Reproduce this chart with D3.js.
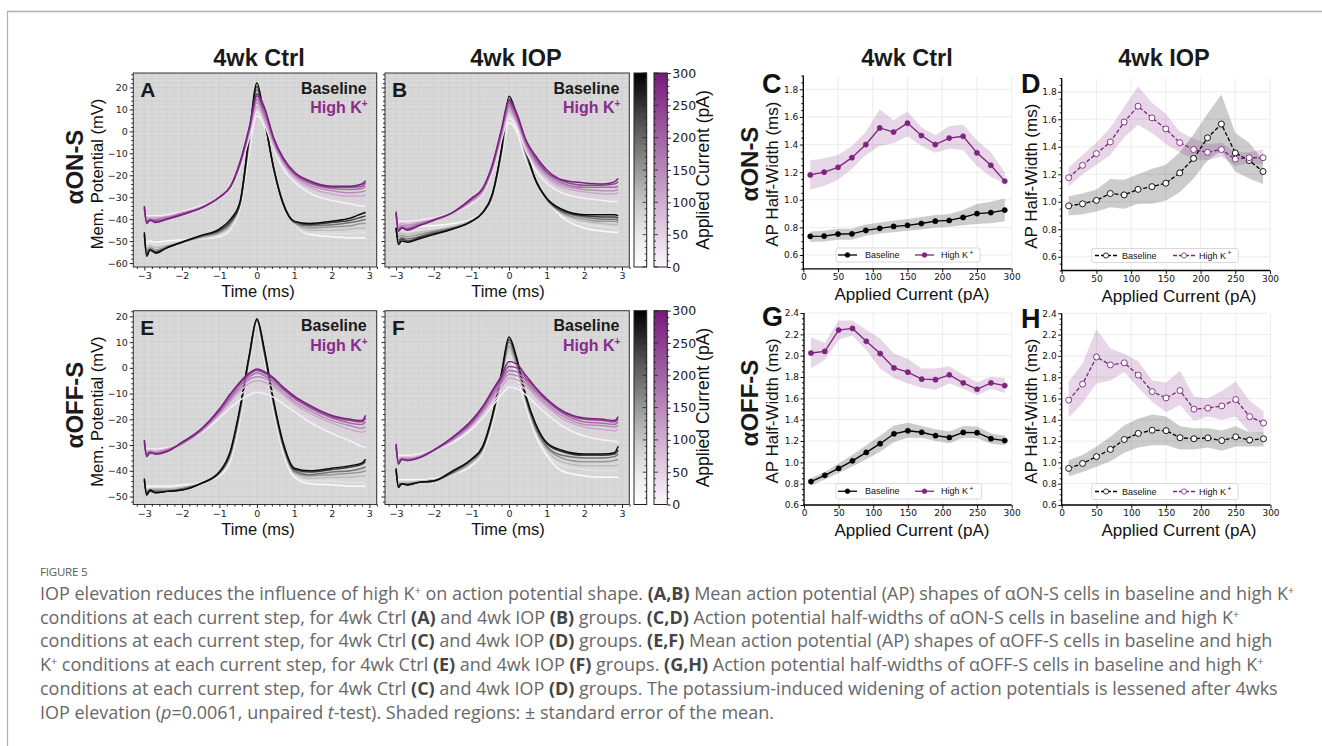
<!DOCTYPE html>
<html><head><meta charset="utf-8">
<script src="https://cdn.jsdelivr.net/npm/d3@7"></script>
<style>body{margin:0;background:#fff;} svg{display:block;}</style>
</head><body>
<svg id="fig" width="1322" height="746"></svg>
<script>
// ---------------- DATA ----------------
// Action potential traces (mV) sampled at apTime (ms), one trace per applied current step
const apTime = [-3,-2.94,-2.85,-2.7,-2.4,-2,-1.5,-1,-0.7,-0.45,-0.2,0,0.2,0.45,0.7,1,1.4,2,2.5,2.8,2.9];
const apCurrents = [10,60,110,150,190,240,290];

const onCtrlBase = [
 [-49,-50.5,-50,-50.5,-50,-49.5,-49,-48,-44.5,-35,-9,9,2,-16,-31,-42,-47,-48,-48.5,-48.5,-48.5],
 [-49,-52,-51,-52,-51,-50,-49,-47.5,-44,-34,-7,12,3,-16,-31,-42,-46.5,-46.5,-46.5,-46,-46],
 [-48,-53,-52,-53,-52,-50.5,-48.5,-46.5,-43,-33,-5,15,4,-16,-32,-42,-45,-45,-44.5,-44,-44],
 [-48,-54,-53,-54,-52.5,-50.5,-48,-46,-42,-33,-4,17,5,-17,-32,-41.5,-44,-43.5,-43,-42,-42],
 [-47,-55,-53.5,-55,-53,-50.5,-48,-45.5,-41.5,-33,-3,19,5,-17,-33,-41.5,-43,-42.5,-41.5,-40.5,-40],
 [-47,-56,-54,-55,-53,-50.5,-47.5,-45,-41,-33,-2,20.5,6,-17,-33,-41,-42.5,-41.5,-40.5,-39,-38.5],
 [-46,-57,-54,-55.5,-53,-50.5,-47.5,-44.5,-40,-32,-1,22,6,-17,-33,-41,-42,-41,-39.5,-37.5,-37]
];
const onCtrlHighK = [
 [-38,-38.5,-38.5,-38.5,-38,-36.5,-34,-30.5,-26,-17,-3,7,3,-8,-17,-23,-28,-31.5,-33,-34,-34],
 [-37,-39,-39,-39,-38.5,-37,-34.5,-30.5,-25.5,-16,-1.5,9.5,4.5,-7,-15.5,-22,-26.5,-30,-31,-31.5,-31.5],
 [-36,-39.5,-39.5,-39.5,-39,-37,-34.5,-30,-25.5,-15.5,-0.5,11.5,6,-6,-14.5,-21,-25.5,-28.5,-29.5,-29.5,-29],
 [-35.5,-40.5,-40,-40,-39,-37.5,-35,-30,-25,-15,0.5,13,7.5,-5,-13.5,-20,-24.5,-27,-28,-27.5,-27],
 [-35,-41,-40,-40.5,-39.5,-37.5,-35,-30,-25,-14.5,1,14.5,8.5,-4,-13,-19.5,-23.5,-26,-26.5,-26,-25],
 [-34.5,-41.5,-40.5,-41,-40,-38,-35,-30,-25,-14.5,1.5,16,10,-3.5,-12.5,-19,-23,-25.5,-25.5,-25,-23.5],
 [-34,-42,-40.5,-41.5,-40,-38,-35,-30,-25,-14,2,17,11,-3,-12,-18.5,-22.5,-25,-25,-24,-22.5]
];
const onIopBase = [
 [-43,-44,-44,-44,-43.5,-43,-42,-40,-37,-31,-12,4,0,-13,-22,-31,-39,-44,-45.5,-46,-46],
 [-43,-45.5,-45,-45.5,-45,-44,-43,-40.5,-37,-30.5,-11,7,2,-12,-22,-31,-38,-42,-43.5,-44,-44],
 [-43.5,-47,-46.5,-47,-46,-45,-43.5,-40.5,-37,-30,-10,9.5,3.5,-11,-22,-31,-37.5,-41,-42,-42.5,-42.5],
 [-43.5,-48,-47.5,-48,-47,-45.5,-44,-41,-37,-30,-9.5,11,4.5,-10.5,-22,-31,-37,-40,-41,-41,-41.5],
 [-44,-49.5,-48.5,-49,-48,-46,-44,-41,-37,-29.5,-9,13,5.5,-10,-22,-31,-36.5,-39,-40,-40,-40.5],
 [-44,-50.5,-49,-50,-48.5,-46.5,-44.5,-41,-37,-29,-8.5,14.5,6.5,-9,-22,-30.5,-36,-38.5,-39,-39,-39.5],
 [-44,-51.5,-50,-50.5,-49,-47,-44.5,-41,-37,-29,-8,16,7.5,-8.5,-22,-30.5,-35.5,-38,-38,-38,-38.5]
];
const onIopHighK = [
 [-40,-41,-41,-41,-40.5,-39.5,-37,-33,-28.5,-19,-4,6,2,-9,-17.5,-23.5,-28,-30.5,-31.5,-32,-32],
 [-39,-42,-41.5,-41.5,-41,-40,-37,-32.5,-28,-18,-3,8,3.5,-8,-16,-22,-26.5,-29,-30,-30,-30],
 [-38.5,-43,-42,-42.5,-41.5,-40,-37,-32,-27.5,-17.5,-2,9.5,4.5,-7,-15,-21,-25.5,-27.5,-28.5,-28.5,-28],
 [-38,-44,-43,-43,-42,-40,-37,-31.5,-27,-17,-1,11,5.5,-6,-14,-20,-24.5,-26.5,-27,-27,-26.5],
 [-37.5,-44.5,-43.5,-44,-42.5,-40.5,-37,-31,-26.5,-16.5,0,12,6.5,-5,-13,-19,-23.5,-25.5,-25.5,-25.5,-25],
 [-37,-45,-44,-44.5,-43,-40.5,-37,-31,-26,-16,0.5,13.5,7.5,-4.5,-12,-18.5,-22.5,-24.5,-24.5,-24,-23],
 [-36.5,-45.5,-44,-45,-43,-40.5,-37,-30.5,-26,-15.5,1,14.5,8.5,-4,-11,-17.5,-22,-23.5,-24,-23,-21.5]
];
const offCtrlBase = [
 [-45.5,-46,-46,-46,-46,-45.5,-44.5,-42,-36,-20,2,17,3,-17,-33,-42.5,-45,-45.5,-46,-46,-46],
 [-45,-46.5,-46.5,-46.5,-46.5,-46,-44.5,-41.5,-35,-19,3,17.5,4,-16,-32,-41.5,-44,-44,-44.5,-44.5,-44],
 [-44.5,-47.5,-47,-47,-47,-46.5,-45,-41,-34,-18,3.5,18,5,-15,-31,-41,-43,-42.5,-42.5,-42,-42],
 [-44,-48,-47.5,-47.5,-47.5,-47,-45,-41,-33.5,-17,4,18.5,5.5,-14.5,-30.5,-40.5,-42,-41.5,-41,-40.5,-40],
 [-44,-48.5,-47.5,-48,-48,-47,-45,-41,-33,-16.5,4.5,18.5,6,-14,-30,-40,-41.5,-40.5,-40,-39,-38.5],
 [-43.5,-49,-48,-48.5,-48,-47.5,-45,-40.5,-32.5,-16,5,19,6.5,-13.5,-29.5,-39.5,-40.5,-39.5,-38.5,-37.5,-36.5],
 [-43,-49.5,-47.5,-48.5,-48,-47.5,-45,-40.5,-32,-15.5,5,19,7,-13,-29,-39,-40,-39,-38,-37,-35.5]
];
const offCtrlHighK = [
 [-31,-31.5,-31.5,-31.5,-31,-29.5,-25.5,-19.5,-15.5,-12.5,-10.5,-9.5,-10,-11.5,-14,-17,-21,-25.5,-28.5,-30.5,-31],
 [-30.5,-32,-32,-32,-31.5,-29.5,-25,-18.5,-14,-10.5,-8,-7,-7.5,-9.5,-12,-15,-19,-23,-25.5,-26.5,-26.5],
 [-30,-32.5,-32,-32.5,-31.5,-29.5,-25,-18,-13,-9,-6,-5,-5.5,-7.5,-10.5,-14,-17.5,-21.5,-24,-25,-24.5],
 [-29.5,-33,-32.5,-33,-32,-29.5,-24.5,-17.5,-12,-8,-4.5,-3.5,-4,-6.5,-9.5,-13,-16.5,-20.5,-22.5,-23.5,-23],
 [-29,-33.5,-32.5,-33,-32,-29.5,-24.5,-17,-11.5,-7,-3.5,-2,-3,-5.5,-8.5,-12,-15.5,-19.5,-21.5,-22,-21],
 [-28.5,-34,-33,-33.5,-32.5,-29,-24,-16.5,-10.5,-6,-2.5,-1,-2,-4.5,-8,-11.5,-15,-19,-20.5,-21,-19.5],
 [-28,-34.5,-33,-33.5,-32.5,-29,-24,-16,-10,-5.5,-2,-0.5,-1.5,-4,-7.5,-11,-14.5,-18.5,-20,-20.5,-18.5]
];
const offIopBase = [
 [-42.5,-43.5,-43.5,-43.5,-43.5,-43,-41.5,-38,-33,-22,-6,3,-3,-15,-26,-34,-40,-42,-42.5,-42.5,-42.5],
 [-42,-44,-44,-44,-44,-43.5,-41.5,-37.5,-32.5,-21,-5,5,-1,-14,-25,-33,-38,-39.5,-40,-40,-40],
 [-41,-44.5,-44.5,-44.5,-44,-43.5,-41,-37,-32,-20.5,-4,7,0.5,-13,-24,-32,-36.5,-38,-38,-38,-37.5],
 [-40.5,-45,-45,-45,-44.5,-44,-41,-36.5,-31.5,-20,-3.5,8.5,1.5,-12.5,-23.5,-31,-35,-36.5,-36.5,-36,-35.5],
 [-40,-45.5,-45,-45,-44.5,-44,-40.5,-36,-31,-19.5,-3,10,2.5,-12,-23,-30.5,-34,-35,-35,-34.5,-33.5],
 [-39.5,-46,-45,-45.5,-44.5,-44,-40.5,-35.5,-31,-19,-2.5,11,3.5,-11.5,-22,-29.5,-32.5,-34,-34,-33.5,-32],
 [-39,-46.5,-45,-45.5,-44.5,-44,-40,-35.5,-30.5,-19,-2,12,4,-11,-21.5,-29,-32,-33.5,-33.5,-33,-30.5]
];
const offIopHighK = [
 [-33,-34,-34,-34,-33.5,-32,-29,-24,-19.5,-15,-10.5,-7.5,-8,-10.5,-14,-18,-22.5,-26.5,-28,-28.5,-29],
 [-32,-35,-34.5,-34.5,-34,-32,-28.5,-23,-18.5,-14,-9,-5.5,-6,-8.5,-12.5,-16.5,-21,-24.5,-26,-26.5,-26.5],
 [-31.5,-35.5,-35,-35,-34.5,-32,-28,-22.5,-17.5,-12.5,-7.5,-4,-4.5,-7,-11,-15,-19.5,-23,-24,-24.5,-24],
 [-31,-36,-35,-35.5,-34.5,-32,-28,-22,-17,-11.5,-6,-2.5,-3,-6,-10,-14,-18.5,-22,-22.5,-23,-22.5],
 [-30.5,-36.5,-35.5,-35.5,-35,-32,-27.5,-21.5,-16,-10.5,-5,-1,-1.5,-5,-9,-13,-17.5,-21,-21.5,-22,-21],
 [-30,-37,-35.5,-36,-35,-32,-27,-21,-15.5,-9.5,-4,0.5,0,-4,-8,-12.5,-17,-20,-20.5,-21,-20],
 [-29.5,-37.5,-35.5,-36,-35,-32,-27,-20.5,-15,-9,-3,2.5,1.5,-3,-7.5,-12,-16.5,-19.5,-20,-20.5,-19]
];

// AP half-width (ms) vs applied current (pA), mean and +/- SEM bounds
const hwCurrent = [10,30,50,70,90,110,130,150,170,190,210,230,250,270,290];

const onCtrlHwBase   = [0.735,0.737,0.752,0.753,0.778,0.793,0.807,0.815,0.828,0.845,0.85,0.872,0.9,0.907,0.925];
const onCtrlHwBaseLo = [0.695,0.697,0.71,0.71,0.74,0.755,0.765,0.775,0.785,0.80,0.805,0.815,0.825,0.83,0.845];
const onCtrlHwBaseHi = [0.77,0.775,0.79,0.79,0.82,0.835,0.85,0.86,0.875,0.89,0.895,0.925,0.97,0.985,1.01];
const onCtrlHwK      = [1.18,1.2,1.235,1.305,1.4,1.52,1.49,1.555,1.465,1.4,1.447,1.46,1.34,1.25,1.135];
const onCtrlHwKLo    = [1.075,1.10,1.145,1.225,1.325,1.39,1.41,1.46,1.39,1.34,1.37,1.36,1.245,1.165,1.12];
const onCtrlHwKHi    = [1.285,1.30,1.325,1.39,1.49,1.655,1.575,1.64,1.525,1.465,1.535,1.545,1.43,1.345,1.20];

const onIopHwBase    = [0.97,0.985,1.01,1.06,1.05,1.09,1.11,1.135,1.21,1.315,1.465,1.565,1.355,1.30,1.22];
const onIopHwBaseLo  = [0.90,0.91,0.93,0.96,0.95,0.985,0.985,1.01,1.07,1.17,1.30,1.37,1.22,1.17,1.13];
const onIopHwBaseHi  = [1.04,1.06,1.09,1.165,1.16,1.20,1.24,1.27,1.36,1.49,1.64,1.78,1.50,1.43,1.30];
const onIopHwK       = [1.175,1.265,1.35,1.435,1.58,1.695,1.61,1.53,1.43,1.38,1.36,1.38,1.31,1.32,1.32];
const onIopHwKLo     = [1.11,1.20,1.27,1.34,1.47,1.56,1.50,1.42,1.36,1.31,1.30,1.33,1.26,1.28,1.27];
const onIopHwKHi     = [1.25,1.34,1.43,1.54,1.69,1.84,1.72,1.64,1.51,1.46,1.42,1.43,1.36,1.36,1.38];

const offCtrlHwBase   = [0.82,0.878,0.943,1.014,1.093,1.175,1.268,1.296,1.282,1.25,1.233,1.28,1.278,1.222,1.204];
const offCtrlHwBaseLo = [0.78,0.84,0.90,0.96,1.03,1.10,1.19,1.23,1.23,1.20,1.18,1.23,1.225,1.175,1.16];
const offCtrlHwBaseHi = [0.85,0.91,0.99,1.07,1.16,1.25,1.345,1.37,1.34,1.31,1.29,1.34,1.335,1.27,1.25];
const offCtrlHwK      = [2.025,2.04,2.24,2.255,2.135,2.02,1.885,1.845,1.78,1.775,1.82,1.745,1.685,1.745,1.72];
const offCtrlHwKLo    = [1.88,1.96,2.15,2.19,2.05,1.88,1.79,1.74,1.70,1.68,1.74,1.69,1.63,1.69,1.65];
const offCtrlHwKHi    = [2.17,2.12,2.33,2.33,2.24,2.16,2.02,1.97,1.88,1.88,1.90,1.82,1.75,1.80,1.79];

const offIopHwBase    = [0.944,0.99,1.054,1.122,1.215,1.272,1.302,1.298,1.232,1.222,1.23,1.205,1.24,1.21,1.222];
const offIopHwBaseLo  = [0.87,0.91,0.96,1.01,1.09,1.14,1.16,1.16,1.12,1.12,1.14,1.11,1.15,1.15,1.15];
const offIopHwBaseHi  = [1.02,1.07,1.15,1.24,1.35,1.41,1.45,1.43,1.34,1.32,1.32,1.30,1.34,1.28,1.28];
const offIopHwK       = [1.585,1.735,1.99,1.915,1.935,1.82,1.665,1.605,1.675,1.50,1.51,1.53,1.59,1.43,1.37];
const offIopHwKLo     = [1.42,1.56,1.74,1.77,1.85,1.70,1.57,1.47,1.54,1.39,1.43,1.40,1.43,1.28,1.27];
const offIopHwKHi     = [1.76,1.93,2.25,2.07,2.02,1.95,1.77,1.75,1.86,1.62,1.60,1.67,1.76,1.58,1.48];

// tick labels
const apTimeTicks = [-3,-2,-1,0,1,2,3];
const onVmTicks = [-60,-50,-40,-30,-20,-10,0,10,20];
const offVmTicks = [-50,-40,-30,-20,-10,0,10,20];
const cbarTicks = [0,50,100,150,200,250,300];
const hwCurrentTicks = [0,50,100,150,200,250,300];
const onHwTicks = [0.6,0.8,1.0,1.2,1.4,1.6,1.8];
const offHwTicks = [0.6,0.8,1.0,1.2,1.4,1.6,1.8,2.0,2.2,2.4];

// ---------------- DRAWING ----------------
const svg = d3.select("#fig");
const defs = svg.append("defs");
const LF = "'Liberation Sans', Arial, Helvetica, sans-serif";
const TF = "'DejaVu Sans', sans-serif";
const PURPLE = "#7d2481";
const PURPLE_TXT = "#8a2a8d";
const purpleInterp = d3.interpolateRgb("#fcf7fc", "#751a7a");
const greyInterp = d3.interpolateGreys;

// outer frame
svg.append("line").attr("x1",7.5).attr("x2",1322).attr("y1",11.5).attr("y2",11.5).attr("stroke","#b0b0b0").attr("stroke-width",1.5);
svg.append("line").attr("x1",7.5).attr("x2",7.5).attr("y1",11).attr("y2",746).attr("stroke","#b0b0b0").attr("stroke-width",1.2);

function styleAxis(sel, size, color) {
  sel.select(".domain").remove();
  sel.selectAll("text").attr("font-family", TF).attr("font-size", size).attr("fill", color || "#222");
  sel.selectAll("line").attr("stroke", color || "#222");
}

let clipId = 0;
function tracePanel(c) {
  const x = d3.scaleLinear().domain([-3.295, 3.195]).range([c.x0, c.x1]);
  const y = d3.scaleLinear().domain(c.yDom).range([c.y1, c.y0]);
  const g = svg.append("g");
  g.append("rect").attr("x", c.x0).attr("y", c.y0).attr("width", c.x1 - c.x0).attr("height", c.y1 - c.y0).attr("fill", "#d9d9d9");
  const xMinor = d3.range(-16, 17).map(i => i * 0.2);
  const yMinor = d3.range(Math.ceil(c.yDom[0] / 2), Math.floor(c.yDom[1] / 2) + 1).map(i => i * 2);
  g.selectAll(null).data(xMinor).join("line")
    .attr("x1", d => x(d)).attr("x2", d => x(d)).attr("y1", c.y0).attr("y2", c.y1)
    .attr("stroke", "#cdcdcd").attr("stroke-width", d => Math.abs(d - Math.round(d)) < 1e-6 ? 0.9 : 0.5);
  g.selectAll(null).data(yMinor).join("line")
    .attr("y1", d => y(d)).attr("y2", d => y(d)).attr("x1", c.x0).attr("x2", c.x1)
    .attr("stroke", "#cdcdcd").attr("stroke-width", d => d % 10 === 0 ? 0.9 : 0.5);

  const cid = "clip" + (clipId++);
  defs.append("clipPath").attr("id", cid).append("rect")
    .attr("x", c.x0).attr("y", c.y0).attr("width", c.x1 - c.x0).attr("height", c.y1 - c.y0);
  const lg = g.append("g").attr("clip-path", `url(#${cid})`);
  const line = d3.line().x((d, i) => x(apTime[i])).y(d => y(d)).curve(d3.curveMonotoneX);
  c.base.forEach((tr, k) => {
    lg.append("path").attr("d", line(tr)).attr("fill", "none")
      .attr("stroke", greyInterp(apCurrents[k] / 300)).attr("stroke-width", 1.5).attr("stroke-linejoin", "round");
  });
  c.hk.forEach((tr, k) => {
    lg.append("path").attr("d", line(tr)).attr("fill", "none")
      .attr("stroke", purpleInterp(apCurrents[k] / 300)).attr("stroke-width", 1.5).attr("stroke-linejoin", "round");
  });
  g.append("rect").attr("x", c.x0).attr("y", c.y0).attr("width", c.x1 - c.x0).attr("height", c.y1 - c.y0)
    .attr("fill", "none").attr("stroke", "#333").attr("stroke-width", 1);

  const xa = g.append("g").attr("transform", `translate(0,${c.y1})`)
    .call(d3.axisBottom(x).tickValues(apTimeTicks).tickSize(3.5).tickPadding(2).tickFormat(d3.format("d")));
  styleAxis(xa, 9.5);
  const xm = g.append("g").attr("transform", `translate(0,${c.y1})`)
    .call(d3.axisBottom(x).tickValues(xMinor.filter(d => Math.abs(d - Math.round(d)) > 1e-6)).tickSize(2).tickFormat(""));
  styleAxis(xm, 9.5);
  const ya = g.append("g").attr("transform", `translate(${c.x0},0)`)
    .call(d3.axisLeft(y).tickValues(c.yTicks).tickSize(3.5).tickPadding(2).tickFormat(c.yLabels ? d3.format("d") : ""));
  styleAxis(ya, 9.5);
  const ym = g.append("g").attr("transform", `translate(${c.x0},0)`)
    .call(d3.axisLeft(y).tickValues(yMinor.filter(d => d % 10 !== 0)).tickSize(2).tickFormat(""));
  styleAxis(ym, 9.5);

  g.append("text").attr("x", c.x0 + 7).attr("y", c.y0 + 24).text(c.letter)
    .attr("font-family", LF).attr("font-weight", "bold").attr("font-size", 21).attr("fill", "#1a1a1a");
  g.append("text").attr("x", c.x1 - 10).attr("y", c.y0 + 20.5).attr("text-anchor", "end").text("Baseline")
    .attr("font-family", LF).attr("font-weight", "bold").attr("font-size", 16).attr("fill", "#1a1a1a");
  const hkT = g.append("text").attr("x", c.x1 - 9).attr("y", c.y0 + 40).attr("text-anchor", "end")
    .attr("font-family", LF).attr("font-weight", "bold").attr("font-size", 16).attr("fill", PURPLE_TXT);
  hkT.append("tspan").text("High K");
  hkT.append("tspan").text("+").attr("font-size", 10).attr("dy", -6);

  g.append("text").attr("x", c.xLabelX).attr("y", c.y1 + 30).attr("text-anchor", "middle").text("Time (ms)")
    .attr("font-family", LF).attr("font-size", 16.5).attr("fill", "#111");
  if (c.yLabels) {
    g.append("text").attr("transform", `translate(103,${(c.y0 + c.y1) / 2 + 4}) rotate(-90)`)
      .attr("text-anchor", "middle").text("Mem. Potential (mV)")
      .attr("font-family", LF).attr("font-size", 16.5).attr("fill", "#111");
  }
}

function colorbars(y0, y1) {
  const yc = d3.scaleLinear().domain([0, 300]).range([y1, y0]);
  const bars = [{x: 634, w: 12.7, interp: greyInterp, id: "gGrey" + Math.round(y0)},
                {x: 654, w: 13.3, interp: purpleInterp, id: "gPurp" + Math.round(y0)}];
  bars.forEach(b => {
    const lgd = defs.append("linearGradient").attr("id", b.id).attr("x1", 0).attr("x2", 0).attr("y1", 1).attr("y2", 0);
    d3.range(0, 11).forEach(i => lgd.append("stop").attr("offset", i / 10).attr("stop-color", b.interp(i / 10)));
    svg.append("rect").attr("x", b.x).attr("y", y0).attr("width", b.w).attr("height", y1 - y0)
      .attr("fill", `url(#${b.id})`).attr("stroke", "#222").attr("stroke-width", 1);
  });
  const minor = d3.range(0, 301, 10);
  svg.selectAll(null).data(minor).join("line")
    .attr("x1", 646.7).attr("x2", d => d % 50 === 0 ? 642.7 : 644.7)
    .attr("y1", d => yc(d)).attr("y2", d => yc(d)).attr("stroke", "#222").attr("stroke-width", 0.8);
  svg.selectAll(null).data(minor).join("line")
    .attr("x1", 654).attr("x2", d => d % 50 === 0 ? 658 : 656)
    .attr("y1", d => yc(d)).attr("y2", d => yc(d)).attr("stroke", "#222").attr("stroke-width", 0.8);
  const ax = svg.append("g").attr("transform", "translate(667.3,0)")
    .call(d3.axisRight(yc).tickValues(cbarTicks).tickSize(3.5).tickPadding(1.5));
  styleAxis(ax, 12.5);
  const axm = svg.append("g").attr("transform", "translate(667.3,0)")
    .call(d3.axisRight(yc).tickValues(minor.filter(d => d % 50 !== 0)).tickSize(2).tickFormat(""));
  styleAxis(axm, 12.5);
  svg.append("text").attr("transform", `translate(709,${(y0 + y1) / 2}) rotate(-90)`)
    .attr("text-anchor", "middle").text("Applied Current (pA)")
    .attr("font-family", LF).attr("font-size", 17.5).attr("fill", "#111");
}

function hwPanel(c) {
  const x = d3.scaleLinear().domain([0, 300]).range([c.x0, c.x1]);
  const y = d3.scaleLinear().domain(c.yDom).range([c.y1, c.y0]);
  const g = svg.append("g");
  g.selectAll(null).data(hwCurrentTicks).join("line")
    .attr("x1", d => x(d)).attr("x2", d => x(d)).attr("y1", c.y0).attr("y2", c.y1)
    .attr("stroke", "#e8e8e8").attr("stroke-width", 0.8);
  g.selectAll(null).data(c.yTicks).join("line")
    .attr("y1", d => y(d)).attr("y2", d => y(d)).attr("x1", c.x0).attr("x2", c.x1)
    .attr("stroke", "#e8e8e8").attr("stroke-width", 0.8);
  const series = [
    {m: c.base, lo: c.baseLo, hi: c.baseHi, color: "#000", fill: "#000", op: 0.2},
    {m: c.hk, lo: c.hkLo, hi: c.hkHi, color: PURPLE, fill: PURPLE, op: 0.19}
  ];
  const area = (lo, hi) => d3.area().x((d, i) => x(hwCurrent[i])).y0((d, i) => y(lo[i])).y1((d, i) => y(hi[i]))(lo);
  series.forEach(s => {
    g.append("path").attr("d", area(s.lo, s.hi)).attr("fill", s.fill).attr("fill-opacity", s.op).attr("stroke", "none");
  });
  const line = d3.line().x((d, i) => x(hwCurrent[i])).y(d => y(d));
  series.forEach(s => {
    g.append("path").attr("d", line(s.m)).attr("fill", "none").attr("stroke", s.color).attr("stroke-width", 1.3)
      .attr("stroke-dasharray", c.dashed ? "4,2" : null);
    g.selectAll(null).data(s.m).join("circle")
      .attr("cx", (d, i) => x(hwCurrent[i])).attr("cy", d => y(d))
      .attr("r", c.dashed ? 3 : 2.6)
      .attr("fill", c.dashed ? "#fff" : s.color).attr("stroke", s.color).attr("stroke-width", c.dashed ? 0.9 : 0.5);
  });
  const xa = g.append("g").attr("transform", `translate(0,${c.y1})`)
    .call(d3.axisBottom(x).tickValues(hwCurrentTicks).tickSize(3.5).tickPadding(1.5).tickFormat(d3.format("d")));
  styleAxis(xa, 9, "#111");
  const ya = g.append("g").attr("transform", `translate(${c.x0},0)`)
    .call(d3.axisLeft(y).tickValues(c.yTicks).tickSize(3.5).tickPadding(1.5).tickFormat(d3.format(".1f")));
  styleAxis(ya, 9, "#111");
  const minorY = d3.range(Math.round(c.yDom[0] * 20), Math.round(c.yDom[1] * 20) + 1).map(i => i / 20)
    .filter(d => !c.yTicks.some(t => Math.abs(t - d) < 1e-6));
  const ym = g.append("g").attr("transform", `translate(${c.x0},0)`)
    .call(d3.axisLeft(y).tickValues(minorY).tickSize(2).tickFormat(""));
  styleAxis(ym, 9, "#111");
  g.append("line").attr("x1", c.x0).attr("x2", c.x0).attr("y1", c.y0).attr("y2", c.y1 + 0.6).attr("stroke", "#000").attr("stroke-width", 1.3);
  g.append("line").attr("x1", c.x0 - 0.6).attr("x2", c.x1).attr("y1", c.y1).attr("y2", c.y1).attr("stroke", "#000").attr("stroke-width", 1.3);

  const L = c.legend;
  g.append("rect").attr("x", L.x).attr("y", L.y).attr("width", L.w).attr("height", L.h).attr("rx", 2)
    .attr("fill", "#fff").attr("fill-opacity", 0.85).attr("stroke", "#cfcfcf").attr("stroke-width", 0.8);
  const ly = L.y + L.h / 2;
  const entries = [{c: "#000", lx: L.l1, t: "Baseline", tx: L.t1}, {c: PURPLE, lx: L.l2, t: "High K", tx: L.t2, sup: true}];
  entries.forEach(e => {
    g.append("line").attr("x1", e.lx[0]).attr("x2", e.lx[1]).attr("y1", ly).attr("y2", ly)
      .attr("stroke", e.c).attr("stroke-width", 1.3).attr("stroke-dasharray", c.dashed ? "4,2" : null);
    g.append("circle").attr("cx", (e.lx[0] + e.lx[1]) / 2).attr("cy", ly).attr("r", c.dashed ? 2.6 : 2.3)
      .attr("fill", c.dashed ? "#fff" : e.c).attr("stroke", e.c).attr("stroke-width", 0.8);
    const t = g.append("text").attr("x", e.tx).attr("y", ly + 3.2).attr("font-family", LF).attr("font-size", 9).attr("fill", "#111");
    t.append("tspan").text(e.t);
    if (e.sup) t.append("tspan").text("+").attr("font-size", 6.5).attr("dx", 1.5).attr("dy", -3.5);
  });

  g.append("text").attr("x", c.xLabelX).attr("y", c.y1 + 31).attr("text-anchor", "middle").text("Applied Current (pA)")
    .attr("font-family", LF).attr("font-size", 17).attr("fill", "#111");
  g.append("text").attr("transform", `translate(${c.yLabelX},${(c.y0 + c.y1) / 2 + 2}) rotate(-90)`)
    .attr("text-anchor", "middle").text("AP Half-Width (ms)")
    .attr("font-family", LF).attr("font-size", 17).attr("fill", "#111");
  g.append("text").attr("x", c.letterX).attr("y", c.letterY).text(c.letter)
    .attr("font-family", LF).attr("font-weight", "bold").attr("font-size", 27).attr("fill", "#111");
}

// ---- Left: AP traces ----
tracePanel({x0: 133.3, x1: 376.7, y0: 73, y1: 267, yDom: [-61.8, 26.6], yTicks: onVmTicks, base: onCtrlBase, hk: onCtrlHighK, letter: "A", yLabels: true, xLabelX: 258});
tracePanel({x0: 385, x1: 629.3, y0: 73, y1: 267, yDom: [-61.8, 26.6], yTicks: onVmTicks, base: onIopBase, hk: onIopHighK, letter: "B", yLabels: false, xLabelX: 508});
tracePanel({x0: 133.3, x1: 376.7, y0: 310.7, y1: 504.5, yDom: [-53.1, 22.2], yTicks: offVmTicks, base: offCtrlBase, hk: offCtrlHighK, letter: "E", yLabels: true, xLabelX: 258});
tracePanel({x0: 385, x1: 629.3, y0: 310.7, y1: 504.5, yDom: [-53.1, 22.2], yTicks: offVmTicks, base: offIopBase, hk: offIopHighK, letter: "F", yLabels: false, xLabelX: 508});
colorbars(73, 267);
colorbars(310.7, 504.5);

// ---- Right: half widths ----
hwPanel({x0: 803.3, x1: 1011.7, y0: 75.5, y1: 268.8, yDom: [0.5, 1.9], yTicks: onHwTicks,
  base: onCtrlHwBase, baseLo: onCtrlHwBaseLo, baseHi: onCtrlHwBaseHi, hk: onCtrlHwK, hkLo: onCtrlHwKLo, hkHi: onCtrlHwKHi,
  dashed: false, legend: {x: 836, y: 248, w: 144, h: 14, l1: [838, 857], t1: 865, l2: [915, 934], t2: 941},
  xLabelX: 912, yLabelX: 778, letter: "C", letterX: 762, letterY: 93});
hwPanel({x0: 1061.7, x1: 1270, y0: 78, y1: 270.5, yDom: [0.5, 1.9], yTicks: onHwTicks,
  base: onIopHwBase, baseLo: onIopHwBaseLo, baseHi: onIopHwBaseHi, hk: onIopHwK, hkLo: onIopHwKLo, hkHi: onIopHwKHi,
  dashed: true, legend: {x: 1091.7, y: 248.5, w: 146.5, h: 14, l1: [1095, 1117], t1: 1122, l2: [1173, 1195], t2: 1199},
  xLabelX: 1179, yLabelX: 1037, letter: "D", letterX: 1021, letterY: 93});
hwPanel({x0: 804, x1: 1011.7, y0: 313, y1: 505, yDom: [0.6, 2.4], yTicks: offHwTicks,
  base: offCtrlHwBase, baseLo: offCtrlHwBaseLo, baseHi: offCtrlHwBaseHi, hk: offCtrlHwK, hkLo: offCtrlHwKLo, hkHi: offCtrlHwKHi,
  dashed: false, legend: {x: 836, y: 483.5, w: 145.7, h: 15.5, l1: [838, 857], t1: 865, l2: [915, 934], t2: 941},
  xLabelX: 912, yLabelX: 778, letter: "G", letterX: 762, letterY: 326});
hwPanel({x0: 1061.7, x1: 1270.5, y0: 313.3, y1: 505, yDom: [0.6, 2.4], yTicks: offHwTicks,
  base: offIopHwBase, baseLo: offIopHwBaseLo, baseHi: offIopHwBaseHi, hk: offIopHwK, hkLo: offIopHwKLo, hkHi: offIopHwKHi,
  dashed: true, legend: {x: 1091.7, y: 483.5, w: 146.5, h: 16, l1: [1095, 1117], t1: 1122, l2: [1173, 1195], t2: 1199},
  xLabelX: 1179, yLabelX: 1037, letter: "H", letterX: 1021, letterY: 328});

// ---- Column titles and row labels ----
const titles = [{t: "4wk Ctrl", x: 259}, {t: "4wk IOP", x: 516}, {t: "4wk Ctrl", x: 907}, {t: "4wk IOP", x: 1164}];
titles.forEach(d => svg.append("text").attr("x", d.x).attr("y", 66).attr("text-anchor", "middle").text(d.t)
  .attr("font-family", LF).attr("font-weight", "bold").attr("font-size", 23.5).attr("fill", "#1a1a1a"));
const rowLabels = [{t: "αON-S", x: 83, y: 167}, {t: "αOFF-S", x: 83, y: 405}, {t: "αON-S", x: 758, y: 164}, {t: "αOFF-S", x: 758, y: 403}];
rowLabels.forEach(d => svg.append("text").attr("transform", `translate(${d.x},${d.y}) rotate(-90)`)
  .attr("text-anchor", "middle").text(d.t)
  .attr("font-family", LF).attr("font-weight", "bold").attr("font-size", 24).attr("fill", "#1a1a1a"));

// ---- Caption ----
const CF = "'Open Sans', 'Noto Sans', sans-serif";
svg.append("text").attr("x", 40).attr("y", 576).text("FIGURE 5")
  .attr("font-family", CF).attr("font-size", 11.5).attr("fill", "#5a5a5a").attr("letter-spacing", -0.2);
const captionLines = [
  [["IOP elevation reduces the influence of high K"], ["+", "s"], [" on action potential shape. "], ["(A,B)", "b"], [" Mean action potential (AP) shapes of αON-S cells in baseline and high K"], ["+", "s"]],
  [["conditions at each current step, for 4wk Ctrl "], ["(A)", "b"], [" and 4wk IOP "], ["(B)", "b"], [" groups. "], ["(C,D)", "b"], [" Action potential half-widths of αON-S cells in baseline and high K"], ["+", "s"]],
  [["conditions at each current step, for 4wk Ctrl "], ["(C)", "b"], [" and 4wk IOP "], ["(D)", "b"], [" groups. "], ["(E,F)", "b"], [" Mean action potential (AP) shapes of αOFF-S cells in baseline and high"]],
  [["K"], ["+", "s"], [" conditions at each current step, for 4wk Ctrl "], ["(E)", "b"], [" and 4wk IOP "], ["(F)", "b"], [" groups. "], ["(G,H)", "b"], [" Action potential half-widths of αOFF-S cells in baseline and high K"], ["+", "s"]],
  [["conditions at each current step, for 4wk Ctrl "], ["(C)", "b"], [" and 4wk IOP "], ["(D)", "b"], [" groups. The potassium-induced widening of action potentials is lessened after 4wks"]],
  [["IOP elevation ("], ["p", "i"], ["=0.0061, unpaired "], ["t", "i"], ["-test). Shaded regions: "], ["±", "u"], [" standard error of the mean."]]
];
const capG = svg.append("g").attr("font-family", CF).attr("fill", "#686868");
const capTexts = captionLines.map((segs, li) => {
  const t = capG.append("text").attr("x", 40).attr("y", 600 + li * 23.7).attr("font-size", 15.5);
  let shifted = false;
  segs.forEach(([s, st]) => {
    const ts = t.append("tspan").text(s);
    if (st === "b") ts.attr("font-weight", 700).attr("fill", "#454545");
    if (st === "i") ts.attr("font-style", "italic");
    if (st === "s") { ts.attr("font-size", "0.6em").attr("dy", -6); shifted = true; }
    else if (shifted) { ts.attr("dy", 6); shifted = false; }
  });
  return t;
});
const w0 = capTexts[0].node().getComputedTextLength();
const fs = 15.5 * 1255 / w0;
capTexts.forEach(t => t.attr("font-size", fs));
</script>
</body></html>
